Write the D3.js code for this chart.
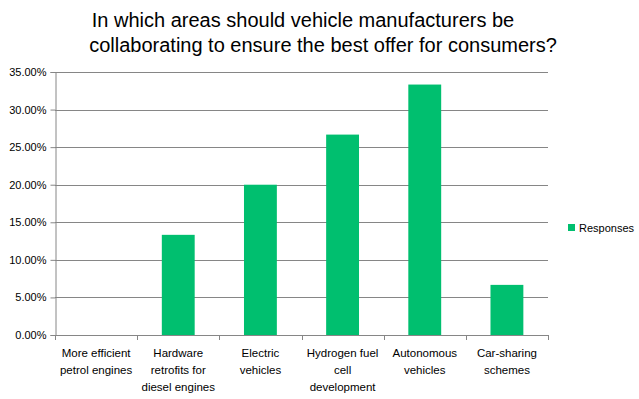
<!DOCTYPE html>
<html>
<head>
<meta charset="utf-8">
<script src="https://cdn.jsdelivr.net/npm/d3@7"></script>
<style>
  body { margin: 0; background: #fff; }
  text { font-family: "Liberation Sans", Arial, sans-serif; fill: #000; }
</style>
</head>
<body>
<div id="chart"></div>
<script>
// data
var categories = [
    ["More efficient", "petrol engines"],
    ["Hardware", "retrofits for", "diesel engines"],
    ["Electric", "vehicles"],
    ["Hydrogen fuel", "cell", "development"],
    ["Autonomous", "vehicles"],
    ["Car-sharing", "schemes"]
];
var responses = [0, 0.1333, 0.2, 0.2667, 0.3333, 0.0667];
var yTicks = [0, 0.05, 0.10, 0.15, 0.20, 0.25, 0.30, 0.35];
var titleLines = ["In which areas should vehicle manufacturers be",
                  "collaborating to ensure the best offer for consumers?"];
var seriesName = "Responses";

var width = 639, height = 399;
var plotLeft = 55, plotRight = 548, plotTop = 72, plotBottom = 335;
var barColor = "#00bf6f", gridColor = "#868686";

var svg = d3.select("#chart").append("svg")
    .attr("width", width)
    .attr("height", height);

var x = d3.scaleBand()
    .domain(d3.range(categories.length))
    .range([plotLeft, plotRight])
    .paddingInner(0.6)
    .paddingOuter(0.3);

var y = d3.scaleLinear()
    .domain([0, 0.35])
    .range([plotBottom, plotTop]);

// gridlines
svg.append("g")
    .selectAll("line")
    .data(yTicks.slice(1))
    .enter().append("line")
    .attr("x1", plotLeft).attr("x2", plotRight)
    .attr("y1", d => Math.round(y(d)) + 0.5)
    .attr("y2", d => Math.round(y(d)) + 0.5)
    .attr("stroke", gridColor);

// y axis
var yAxis = svg.append("g")
    .attr("transform", "translate(" + (plotLeft + 0.5) + ",0)")
    .call(d3.axisLeft(y).tickValues(yTicks).tickSize(5).tickPadding(4)
        .tickFormat(d3.format(".2%")));
yAxis.selectAll("path, line").attr("stroke", gridColor);
yAxis.selectAll("text").style("font-size", "11px").style("font-family", "Liberation Sans, Arial").attr("fill", "#000");

// bars
svg.append("g")
    .selectAll("rect")
    .data(responses)
    .enter().append("rect")
    .attr("x", (d, i) => x(i))
    .attr("width", x.bandwidth())
    .attr("y", d => y(d))
    .attr("height", d => y(0) - y(d))
    .attr("fill", barColor);

// x axis line + ticks at category boundaries
var bounds = d3.range(categories.length + 1).map(i => plotLeft + i * (plotRight - plotLeft) / categories.length);
svg.append("line")
    .attr("x1", plotLeft).attr("x2", plotRight)
    .attr("y1", plotBottom + 0.5).attr("y2", plotBottom + 0.5)
    .attr("stroke", gridColor);
svg.append("g")
    .selectAll("line")
    .data(bounds)
    .enter().append("line")
    .attr("x1", d => Math.round(d) + 0.5).attr("x2", d => Math.round(d) + 0.5)
    .attr("y1", plotBottom).attr("y2", plotBottom + 5)
    .attr("stroke", gridColor);

// category labels
var labels = svg.append("g")
    .selectAll("text")
    .data(categories)
    .enter().append("text")
    .attr("text-anchor", "middle")
    .style("font-size", "11.5px")
    .attr("transform", (d, i) => "translate(" + (x(i) + x.bandwidth() / 2) + "," + (plotBottom + 22) + ")");
labels.selectAll("tspan")
    .data(d => d)
    .enter().append("tspan")
    .attr("x", 0)
    .attr("y", (d, i) => i * 17)
    .text(d => d);

// title
svg.append("g")
    .selectAll("text")
    .data(titleLines)
    .enter().append("text")
    .attr("x", (d, i) => i === 0 ? 303 : 323)
    .attr("y", (d, i) => 27 + i * 25)
    .attr("text-anchor", "middle")
    .style("font-size", "20px")
    .text(d => d);

// legend
svg.append("rect")
    .attr("x", 568).attr("y", 224)
    .attr("width", 7).attr("height", 7)
    .attr("fill", barColor);
svg.append("text")
    .attr("x", 579).attr("y", 232)
    .style("font-size", "11px")
    .text(seriesName);
</script>
</body>
</html>
